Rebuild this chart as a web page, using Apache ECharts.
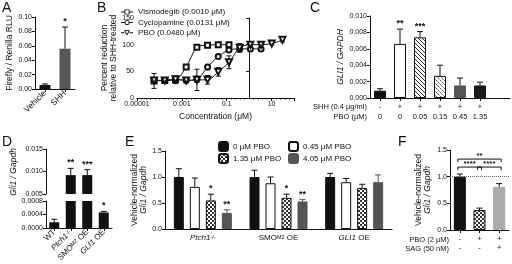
<!DOCTYPE html>
<html>
<head>
<meta charset="utf-8">
<script src="https://cdn.jsdelivr.net/npm/echarts@6/dist/echarts.min.js"></script>
<style>
html, body { margin: 0; padding: 0; background: #fff; }
#main { width: 512px; height: 264px; }
</style>
</head>
<body>
<div id="main"></div>
<script>
// ---------- data ----------
// A: luciferase
const aCats = ['Vehicle', 'SHH'];
const aMean = [0.0055, 0.056];
const aErr = [0.0015, 0.030];
const aStars = ['', '*'];

// B: dose response (concentration uM, % reduction)
const bNames = ['Vismodegib (0.0010 \u03bcM)', 'Cyclopamine (0.0131 \u03bcM)', 'PBO (0.0480 \u03bcM)'];
const bConc = [0.0000576, 0.000173, 0.00052, 0.00156, 0.00468, 0.014, 0.042, 0.126, 0.378, 1.13, 3.4, 10.2, 30.6];
const bVismo = [32, 33, 34, 58, 95, 99, 100, 100];
const bVismoErr = [14, 2, 7, 3, 2, 1, 1, 1];
const bCyclo = [33, 33, 35, 33, 35, 58, 78, 90, 92, 92, 92];
const bCycloErr = [3, 2, 5, 3, 6, 5, 4, 3, 5, 2, 3];
const bPbo = [33, 33, 35, 33, 34, 34, 49, 67, 94, 100, 100, 102, 109];
const bPboErr = [3, 2, 5, 3, 20, 8, 8, 12, 8, 2, 2, 2, 4];

// C: GLI1 / GAPDH
const cShh = ['-', '+', '+', '+', '+', '+'];
const cPbo = ['0', '0', '0.05', '0.15', '0.45', '1.35'];
const cMean = [0.00089, 0.0066, 0.0074, 0.0027, 0.00153, 0.00153];
const cErr = [0.00024, 0.0018, 0.0007, 0.0013, 0.0009, 0.0004];
const cStars = ['', '**', '***', '', '', ''];

// D: broken axis
const dCats = ['WT', 'Ptch1-/-', 'SMOM2 OE', 'GLI1 OE'];
const dMean = [0.00017, 0.0092, 0.0092, 0.00046];
const dErr = [0.00009, 0.0015, 0.0012, 0.00003];
const dStars = ['', '**', '***', '*'];

// E: vehicle-normalized
const eCats = ['Ptch1-/-', 'SMOM2 OE', 'GLI1 OE'];
const eNames = ['0 \u03bcM PBO', '0.45 \u03bcM PBO', '1.35 \u03bcM PBO', '4.05 \u03bcM PBO'];
const eMean0 = [1.0, 1.0, 1.0];
const eErr0 = [0.16, 0.13, 0.07];
const eMean045 = [0.81, 0.88, 0.90];
const eErr045 = [0.17, 0.12, 0.07];
const eMean135 = [0.55, 0.60, 0.79];
const eErr135 = [0.12, 0.07, 0.07];
const eMean405 = [0.31, 0.53, 0.90];
const eErr405 = [0.06, 0.035, 0.14];
const eStars135 = ['*', '*', ''];
const eStars405 = ['**', '**', ''];

// F
const fPbo = ['-', '+', '+'];
const fSag = ['-', '-', '+'];
const fMean = [1.0, 0.375, 0.81];
const fErr = [0.05, 0.035, 0.06];
const fBrackets = [[0, 2, 1.33, '**'], [0, 1, 1.18, '****'], [1, 2, 1.18, '****']];

// ---------- styles ----------
const FONT = '"Liberation Sans", Arial, sans-serif';
const INK = '#111';

function pattern(kind) {
  const c = document.createElement('canvas');
  c.width = 4; c.height = 4;
  const g = c.getContext('2d');
  g.fillStyle = '#fff';
  g.fillRect(0, 0, 4, 4);
  if (kind === 'hatch') {
    g.fillStyle = '#333';
    for (let i = 0; i < 4; i++) g.fillRect(i, i, 1, 1);
  } else if (kind === 'light') {
    g.fillStyle = '#555';
    g.fillRect(0, 0, 1, 1);
    g.fillRect(2, 2, 1, 1);
    g.fillStyle = '#aaa';
    g.fillRect(1, 1, 1, 1);
    g.fillRect(3, 3, 1, 1);
  } else {
    g.fillStyle = '#333';
    g.fillRect(0, 0, 2, 2);
    g.fillRect(2, 2, 2, 2);
  }
  return { image: c, repeat: 'repeat' };
}
const HATCH = pattern('hatch');
const CHECK = pattern('check');
const CHECK_LIGHT = pattern('light');

// legend icons "-□-", "-○-", "-▽-" (hollow shapes with line stubs)
const bIcons = [
  'path://M0,3.5h4v1h-4z M10,3.5h4v1h-4z M4,1h6v6h-6z M5,2v4h4v-4z',
  'path://M0,3.5h4v1h-4z M10,3.5h4v1h-4z M4,4a3,3 0 1,1 6,0a3,3 0 1,1 -6,0z M5,4a2,2 0 1,0 4,0a2,2 0 1,0 -4,0z',
  'path://M0,3.5h4v1h-4z M10,3.5h4v1h-4z M3.5,1L10.5,1L7,7.5z M5.2,2L7,5.3L8.8,2z'
];

const rich = {
  i: { fontStyle: 'italic', fontSize: 8, fontFamily: FONT, color: INK },
  n: { fontSize: 8, fontFamily: FONT, color: INK },
  sup: { fontSize: 5.5, fontFamily: FONT, color: INK, verticalAlign: 'top' },
  ni: { fontStyle: 'italic', fontSize: 8.5, fontFamily: FONT, color: INK }
};
const labelRich = {
  'WT': '{n|WT}',
  'Ptch1-/-': '{i|Ptch1}{sup|-/-}',
  'SMOM2 OE': '{n|SMO}{sup|M2}{n| OE}',
  'GLI1 OE': '{i|GLI1}{n| OE}'
};

function yAx(grid, min, max, interval, digits, name, gap) {
  return {
    type: 'value', gridIndex: grid, min: min, max: max, interval: interval,
    name: name, nameLocation: 'middle', nameGap: gap,
    nameTextStyle: { fontSize: 8.5, fontFamily: FONT, color: INK, lineHeight: 9, rich: rich },
    axisLine: { show: true, lineStyle: { color: INK, width: 1 } },
    axisTick: { show: true, length: 3, lineStyle: { color: INK } },
    axisLabel: { fontSize: 7, fontFamily: FONT, color: INK, margin: 3,
      formatter: v => v.toFixed(digits) },
    splitLine: { show: false }
  };
}
function xCat(grid, data, label, extra) {
  return Object.assign({
    type: 'category', gridIndex: grid, data: data,
    axisLine: { show: true, lineStyle: { color: INK, width: 1 } },
    axisTick: { show: true, alignWithLabel: true, length: 3, lineStyle: { color: INK } },
    axisLabel: Object.assign({ fontSize: 8, fontFamily: FONT, color: INK, margin: 3, interval: 0, rich: rich }, label),
    splitLine: { show: false }
  }, extra || {});
}

// one-sided error bar (plus stars) drawn through the axis scales
function barErr(color, offset, stars) {
  return function (params, api) {
    const idx = api.value(0);
    const p0 = api.coord([idx, api.value(1)]);
    const p1 = api.coord([idx, api.value(2)]);
    const x = p0[0] + offset;
    const kids = [
      { type: 'line', shape: { x1: x, y1: p0[1], x2: x, y2: p1[1] }, style: { stroke: color, lineWidth: 1 } },
      { type: 'line', shape: { x1: x - 3, y1: p1[1], x2: x + 3, y2: p1[1] }, style: { stroke: color, lineWidth: 1 } }
    ];
    const s = stars ? stars[idx] : '';
    if (s) {
      kids.push({ type: 'text', x: x, y: p1[1] - 1,
        style: { text: s, font: 'bold 9px ' + FONT, fill: INK, align: 'center', verticalAlign: 'bottom',
          textAlign: 'center', textVerticalAlign: 'bottom' } });
    }
    return { type: 'group', children: kids };
  };
}
// two-sided error bar for the dose response
function symErr(params, api) {
  const lo = api.coord([api.value(0), api.value(1)]);
  const hi = api.coord([api.value(0), api.value(2)]);
  const x = lo[0];
  const st = { stroke: INK, lineWidth: 1 };
  return { type: 'group', children: [
    { type: 'line', shape: { x1: x, y1: lo[1], x2: x, y2: hi[1] }, style: st },
    { type: 'line', shape: { x1: x - 2.5, y1: lo[1], x2: x + 2.5, y2: lo[1] }, style: st },
    { type: 'line', shape: { x1: x - 2.5, y1: hi[1], x2: x + 2.5, y2: hi[1] }, style: st }
  ] };
}
function brackets(params, api) {
  const a = api.coord([api.value(0), api.value(2)]);
  const b = api.coord([api.value(1), api.value(2)]);
  const x1 = a[0] - 2, x2 = b[0] + 2, y = a[1];
  const st = { stroke: INK, lineWidth: 1, fill: null };
  return { type: 'group', children: [
    { type: 'polyline', shape: { points: [[x1, y + 3], [x1, y], [x2, y], [x2, y + 3]] }, style: st },
    { type: 'text', x: (x1 + x2) / 2, y: y + 1,
      style: { text: fBrackets[params.dataIndex][3], font: 'bold 8px ' + FONT, fill: INK,
        align: 'center', verticalAlign: 'bottom', textAlign: 'center', textVerticalAlign: 'bottom' } }
  ] };
}

function errRows(means, errs, keep) {
  const rows = [];
  means.forEach((m, i) => { if (!keep || keep(m)) rows.push([i, m, m + errs[i]]); });
  return rows;
}
function symRows(vals, errs) {
  return vals.map((v, i) => [Math.log10(bConc[i]), v - errs[i], v + errs[i]]);
}
function lineData(vals) {
  return vals.map((v, i) => [Math.log10(bConc[i]), v]);
}

const chart = echarts.init(document.getElementById('main'), null, { renderer: 'canvas' });

const aColors = ['#111', '#555'];
const cStyles = [
  { color: '#111', borderColor: '#111' },
  { color: '#fff', borderColor: '#111' },
  { color: HATCH, borderColor: '#111' },
  { color: CHECK_LIGHT, borderColor: '#111' },
  { color: '#555', borderColor: '#555' },
  { color: '#1a1a1a', borderColor: '#1a1a1a' }
];
const eStyles = [
  { color: '#111', borderColor: '#111', borderWidth: 1 },
  { color: '#fff', borderColor: '#111', borderWidth: 1 },
  { color: CHECK, borderColor: '#111', borderWidth: 1 },
  { color: '#555', borderColor: '#555', borderWidth: 1 }
];
const fStyles = [
  { color: '#111', borderColor: '#111' },
  { color: CHECK, borderColor: '#111' },
  { color: '#aaa', borderColor: '#aaa' }
];
const eBarW = 10, eGap = 6;
const eOffsets = [0, 1, 2, 3].map(i => -((4 * eBarW + 3 * eGap) / 2) + eBarW / 2 + i * (eBarW + eGap));
const eMeans = [eMean0, eMean045, eMean135, eMean405];
const eErrs = [eErr0, eErr045, eErr135, eErr405];
const eStarSets = [null, null, eStars135, eStars405];
const bLine = { lineStyle: { color: INK, width: 1 }, itemStyle: { color: INK, borderColor: INK, borderWidth: 1 } };

const option = {
  animation: false,
  textStyle: { fontFamily: FONT, color: INK },
  grid: [
    { left: 35, top: 17, width: 40, height: 72 },     // A
    { left: 137, top: 18, width: 157, height: 80 },   // B
    { left: 370, top: 16, width: 140, height: 82 },   // C
    { left: 46, top: 149, width: 66, height: 45 },    // D top
    { left: 46, top: 201, width: 66, height: 29 },    // D bottom
    { left: 165, top: 151, width: 227, height: 78 },  // E
    { left: 450, top: 150, width: 59, height: 80 }    // F
  ],
  legend: [
    { data: bNames.map((n, i) => ({ name: n, icon: bIcons[i] })), orient: 'vertical', left: 116, top: 3,
      itemWidth: 12, itemHeight: 7, itemGap: 2.5, selectedMode: false,
      itemStyle: { color: INK, borderWidth: 0 },
      textStyle: { fontSize: 8, fontFamily: FONT, color: INK } },
    { data: [eNames[0], eNames[2]], orient: 'vertical', left: 213, top: 136, itemWidth: 9, itemHeight: 9, itemGap: 1,
      selectedMode: false, textStyle: { fontSize: 8, fontFamily: FONT, color: INK } },
    { data: [eNames[1], eNames[3]], orient: 'vertical', left: 283, top: 136, itemWidth: 9, itemHeight: 9, itemGap: 1,
      selectedMode: false, textStyle: { fontSize: 8, fontFamily: FONT, color: INK } }
  ],
  xAxis: [
    xCat(0, aCats, { rotate: 45, fontSize: 8.5 }),
    {
      type: 'value', gridIndex: 1, min: -5, max: 2, interval: 2,
      name: 'Concentration (\u03bcM)', nameLocation: 'middle', nameGap: 14,
      nameTextStyle: { fontSize: 8.5, fontFamily: FONT, color: INK },
      axisLine: { show: true, onZero: false, lineStyle: { color: INK } },
      axisTick: { show: true, length: 3, lineStyle: { color: INK } },
      minorTick: { show: true, splitNumber: 10, length: 1.5, lineStyle: { color: INK } },
      axisLabel: { fontSize: 7, fontFamily: FONT, color: INK, margin: 3,
        formatter: v => (v < 2 && (v + 5) % 2 === 0) ? String(parseFloat(Math.pow(10, v).toPrecision(3))) : '' },
      splitLine: { show: false }
    },
    xCat(2, cShh.map((s, i) => s + '\n' + cPbo[i]),
      { fontSize: 7.5, lineHeight: 9.7, margin: 4, formatter: v => v || '' },
      { max: cShh.length, axisTick: { show: true, alignWithLabel: true, length: 3, lineStyle: { color: INK },
        interval: i => i < cShh.length } }),
    xCat(3, dCats, {}, { show: false }),
    xCat(4, dCats, { rotate: 45, fontSize: 8, formatter: v => labelRich[v] }),
    xCat(5, eCats, { margin: 5, formatter: v => labelRich[v] }, { axisTick: { show: false } }),
    xCat(6, fPbo.map((s, i) => s + '\n' + fSag[i]), { fontSize: 7.5, lineHeight: 8.5, margin: 5 })
  ],
  yAxis: [
    yAx(0, 0, 0.1, 0.02, 2, 'Firefly / Renilla RLU', 18),
    yAx(1, 0, 150, 50, 0, 'Percent reduction\nrelative to SHH-treated', 15),
    yAx(2, 0, 0.01, 0.002, 3, '{ni|GLI1 / GAPDH}', 21),
    yAx(3, 0.005, 0.015, 0.005, 3, '', 0),
    yAx(4, 0, 0.0008, 0.0004, 4, '', 0),
    yAx(5, 0, 1.5, 0.5, 1, 'Vehicle-normalized\n{ni|Gli1 / Gapdh}', 17),
    yAx(6, 0, 1.5, 0.5, 1, 'Vehicle-normalized\n{ni|Gli1 / Gapdh}', 18)
  ],
  graphic: [
    { type: 'text', x: 2, y: 1, style: { text: 'A', font: '14px ' + FONT, fill: INK } },
    { type: 'text', x: 97, y: 1, style: { text: 'B', font: '14px ' + FONT, fill: INK } },
    { type: 'text', x: 310, y: 1, style: { text: 'C', font: '14px ' + FONT, fill: INK } },
    { type: 'text', x: 2, y: 135, style: { text: 'D', font: '14px ' + FONT, fill: INK } },
    { type: 'text', x: 125, y: 135, style: { text: 'E', font: '14px ' + FONT, fill: INK } },
    { type: 'text', x: 398, y: 135, style: { text: 'F', font: '14px ' + FONT, fill: INK } },
    { type: 'text', x: 367, y: 107, style: { text: 'SHH (0.4 \u03bcg/ml)', font: '7.5px ' + FONT, fill: INK,
      align: 'right', verticalAlign: 'middle', textAlign: 'right', textVerticalAlign: 'middle' } },
    { type: 'text', x: 367, y: 117, style: { text: 'PBO (\u03bcM)', font: '7.5px ' + FONT, fill: INK,
      align: 'right', verticalAlign: 'middle', textAlign: 'right', textVerticalAlign: 'middle' } },
    { type: 'text', x: 449, y: 240, style: { text: 'PBO (2 \u03bcM)', font: '7.5px ' + FONT, fill: INK,
      align: 'right', verticalAlign: 'middle', textAlign: 'right', textVerticalAlign: 'middle' } },
    { type: 'text', x: 449, y: 248.5, style: { text: 'SAG (50 nM)', font: '7.5px ' + FONT, fill: INK,
      align: 'right', verticalAlign: 'middle', textAlign: 'right', textVerticalAlign: 'middle' } },
    { type: 'text', x: 14, y: 172, rotation: Math.PI / 2, style: { text: 'Gli1 / Gapdh', font: 'italic 8.5px ' + FONT, fill: INK,
      align: 'center', verticalAlign: 'middle', textAlign: 'center', textVerticalAlign: 'middle' } }
  ],
  series: [
    // A
    { type: 'bar', xAxisIndex: 0, yAxisIndex: 0, barWidth: 11,
      data: aMean.map((v, i) => ({ value: v, itemStyle: { color: aColors[i] } })) },
    { type: 'custom', xAxisIndex: 0, yAxisIndex: 0, renderItem: barErr(INK, 0, aStars), data: errRows(aMean, aErr) },

    // B
    Object.assign({ type: 'line', name: bNames[0], xAxisIndex: 1, yAxisIndex: 1, data: lineData(bVismo), smooth: 0.3,
      symbol: 'emptyRect', symbolSize: 5 }, bLine),
    Object.assign({ type: 'line', name: bNames[1], xAxisIndex: 1, yAxisIndex: 1, data: lineData(bCyclo), smooth: 0.3,
      symbol: 'emptyCircle', symbolSize: 5 }, bLine),
    Object.assign({ type: 'line', name: bNames[2], xAxisIndex: 1, yAxisIndex: 1, data: lineData(bPbo), smooth: 0.3,
      symbol: 'emptyTriangle', symbolRotate: 180, symbolSize: 6 }, bLine),
    { type: 'custom', xAxisIndex: 1, yAxisIndex: 1, renderItem: symErr, data: symRows(bVismo, bVismoErr) },
    { type: 'custom', xAxisIndex: 1, yAxisIndex: 1, renderItem: symErr, data: symRows(bCyclo, bCycloErr) },
    { type: 'custom', xAxisIndex: 1, yAxisIndex: 1, renderItem: symErr, data: symRows(bPbo, bPboErr) },

    // C
    { type: 'bar', xAxisIndex: 2, yAxisIndex: 2, barWidth: 12,
      data: cMean.map((v, i) => ({ value: v, itemStyle: Object.assign({ borderWidth: 1 }, cStyles[i]) })) },
    { type: 'custom', xAxisIndex: 2, yAxisIndex: 2, renderItem: barErr(INK, 0, cStars), data: errRows(cMean, cErr) },

    // D (broken axis: top and bottom segments)
    { type: 'bar', xAxisIndex: 3, yAxisIndex: 3, barWidth: 10, clip: true, itemStyle: { color: '#111' },
      data: dMean.map(v => v > 0.005 ? v : '-') },
    { type: 'custom', xAxisIndex: 3, yAxisIndex: 3, renderItem: barErr(INK, 0, dStars),
      data: errRows(dMean, dErr, m => m > 0.005) },
    { type: 'bar', xAxisIndex: 4, yAxisIndex: 4, barWidth: 10, clip: true, itemStyle: { color: '#111' },
      data: dMean },
    { type: 'custom', xAxisIndex: 4, yAxisIndex: 4, renderItem: barErr(INK, 0, dStars),
      data: errRows(dMean, dErr, m => m < 0.0008) },

    // E
    ...eNames.map((n, k) => ({
      type: 'bar', name: n, xAxisIndex: 5, yAxisIndex: 5, barWidth: eBarW, barGap: (eGap / eBarW * 100) + '%',
      itemStyle: eStyles[k], data: eMeans[k]
    })),
    ...eNames.map((n, k) => ({
      type: 'custom', xAxisIndex: 5, yAxisIndex: 5,
      renderItem: barErr(k === 3 ? '#555' : INK, eOffsets[k], eStarSets[k]),
      data: errRows(eMeans[k], eErrs[k])
    })),

    // F
    { type: 'bar', xAxisIndex: 6, yAxisIndex: 6, barWidth: 12,
      data: fMean.map((v, i) => ({ value: v, itemStyle: Object.assign({ borderWidth: 1 }, fStyles[i]) })),
      markLine: { silent: true, symbol: 'none', label: { show: false },
        lineStyle: { type: 'dotted', color: '#666', width: 1 }, data: [{ yAxis: 1 }] } },
    { type: 'custom', xAxisIndex: 6, yAxisIndex: 6, renderItem: barErr(INK, 0, null), data: errRows(fMean, fErr) },
    { type: 'custom', xAxisIndex: 6, yAxisIndex: 6, renderItem: brackets, encode: { x: [0, 1], y: 2 },
      data: fBrackets.map(b => [b[0], b[1], b[2]]) }
  ]
};

chart.setOption(option);
</script>
</body>
</html>
